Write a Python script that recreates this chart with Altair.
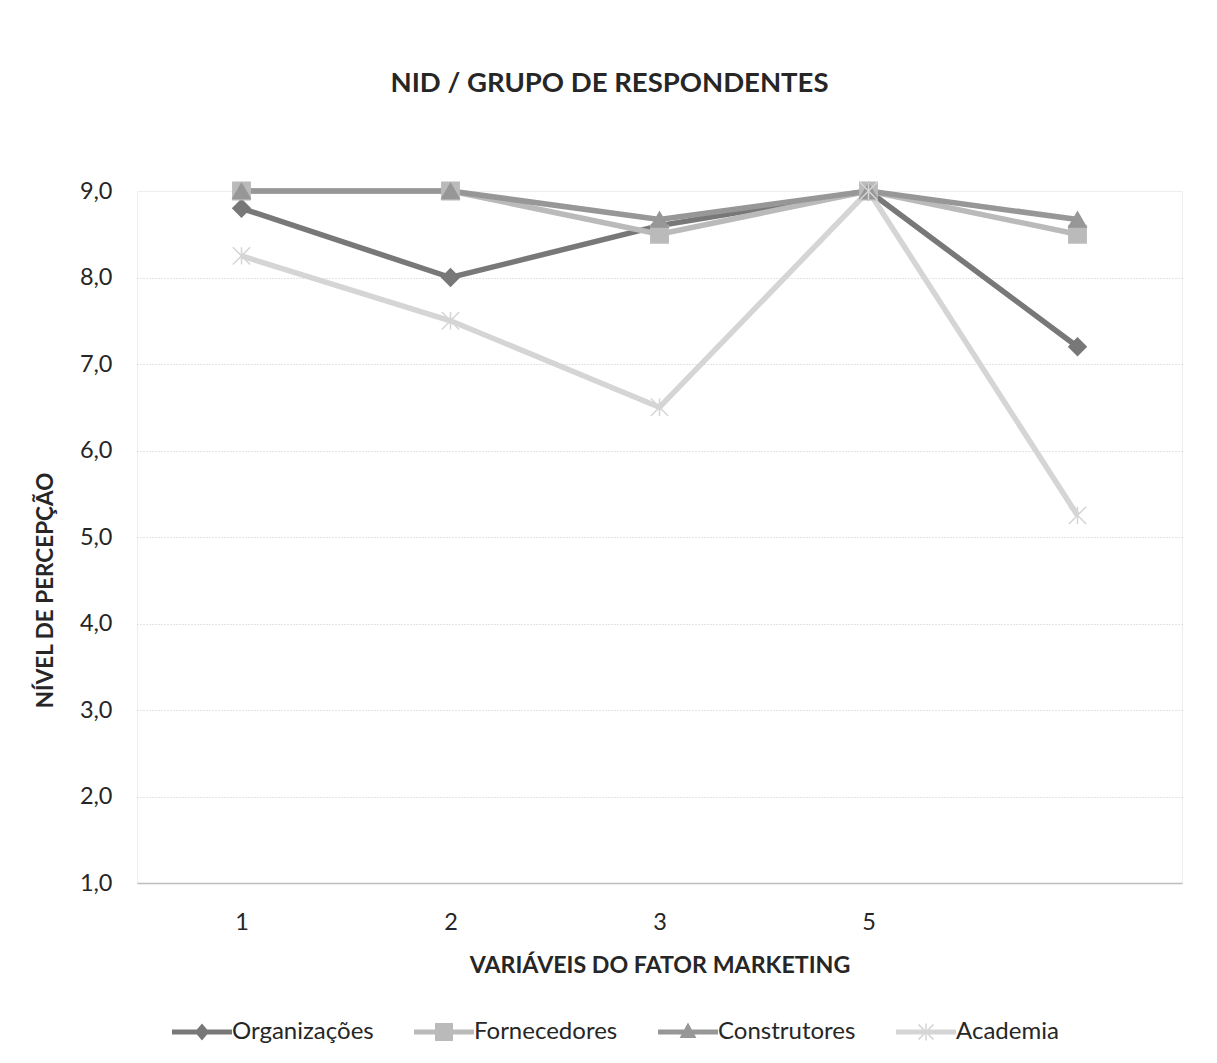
import altair as alt
import pandas as pd

# ---- data ----
categories = ["1", "2", "3", "5", " "]
series = ["Organizações", "Fornecedores", "Construtores", "Academia"]
organizacoes = [8.8, 8.0, 8.6, 9.0, 7.2]
fornecedores = [9.0, 9.0, 8.5, 9.0, 8.5]
construtores = [9.0, 9.0, 8.67, 9.0, 8.67]
academia = [8.25, 7.5, 6.5, 9.0, 5.25]
y_ticks = [1, 2, 3, 4, 5, 6, 7, 8, 9]

values_by_series = [organizacoes, fornecedores, construtores, academia]
rows = []
for s, vals in zip(series, values_by_series):
    for i, (c, v) in enumerate(zip(categories, vals)):
        rows.append({"cat": c, "idx": i, "serie": s, "valor": v})
df = pd.DataFrame(rows)

colors = ["#787878", "#bababa", "#979797", "#d5d5d5"]
marker_shapes = [
    "diamond",
    "square",
    "triangle-up",
    "M-1,-1L1,1M-1,1L1,-1M0,-1L0,1",
]
legend_shapes = [
    "M-1,-0.08L-0.17,-0.08L0,-0.28L0.17,-0.08L1,-0.08L1,0.08L0.17,0.08L0,0.28L-0.17,0.08L-1,0.08Z",
    "M-1,-0.08L1,-0.08L1,0.08L-1,0.08Z M-0.3,-0.3L0.3,-0.3L0.3,0.3L-0.3,0.3Z",
    "M-1,-0.08L1,-0.08L1,0.08L-1,0.08Z M0,-0.32L0.28,0.2L-0.28,0.2Z",
    "M-1,-0.08L1,-0.08L1,0.08L-1,0.08Z M-0.025,-0.28L0.025,-0.28L0.025,0.28L-0.025,0.28Z "
    "M-0.27,-0.23L-0.23,-0.27L0.27,0.23L0.23,0.27Z M0.23,-0.27L0.27,-0.23L-0.23,0.27L-0.27,0.23Z",
]

FONT = "Lato"
TXT = "#262626"

# legend symbol colour chosen per entry from the same series/colour lists
fill_expr = ""
for s, c in zip(series, colors):
    fill_expr += f"datum.value === '{s}' ? '{c}' : "
fill_expr += "'#888888'"

x_enc = alt.X(
    "cat:N",
    sort=categories,
    scale=alt.Scale(domain=categories, paddingInner=0, paddingOuter=0.5),
    axis=alt.Axis(
        title="VARIÁVEIS DO FATOR MARKETING",
        labelAngle=0,
        ticks=False,
        labelPadding=27,
        labelFontSize=23.5,
        labelFont=FONT,
        labelColor=TXT,
        domainColor="#bdbdbd",
        domainWidth=1.5,
        grid=False,
        titleFont=FONT,
        titleFontSize=23.2,
        titleFontWeight="bold",
        titleColor=TXT,
        titleY=82,
        titleBaseline="middle",
    ),
)
y_enc = alt.Y(
    "valor:Q",
    scale=alt.Scale(domain=[1, 9], nice=False, zero=False),
    axis=alt.Axis(
        title="NÍVEL DE PERCEPÇÃO",
        values=y_ticks,
        labelExpr="replace(format(datum.value, '.1f'), '.', ',')",
        ticks=False,
        domain=False,
        labelPadding=25,
        labelFontSize=23.5,
        labelFont=FONT,
        labelColor=TXT,
        grid=True,
        gridColor="#c9c9c9",
        gridDash=[1, 2],
        gridWidth=1,
        gridOpacity=alt.condition("datum.value >= 9 || datum.value <= 1", alt.value(0), alt.value(1)),
        titleFont=FONT,
        titleFontSize=22.5,
        titleFontWeight="bold",
        titleColor=TXT,
        titleX=-92,
        titleY=399,
        titleAngle=-90,
        titleAlign="center",
        titleBaseline="middle",
    ),
)

color_scale = alt.Scale(domain=series, range=colors)

lines = alt.Chart(df).mark_line(strokeWidth=5.5).encode(
    x=x_enc,
    y=y_enc,
    color=alt.Color("serie:N", scale=color_scale, sort=series, legend=None),
    order=alt.Order("idx:Q"),
)

points = alt.Chart(df).mark_point(filled=True, size=300, strokeWidth=1.5, opacity=1).encode(
    x=alt.X("cat:N", sort=categories),
    y="valor:Q",
    color=alt.Color("serie:N", scale=color_scale, sort=series, legend=None),
    stroke=alt.Stroke("serie:N", scale=color_scale, sort=series, legend=None),
    shape=alt.Shape("serie:N", scale=alt.Scale(domain=series, range=marker_shapes), legend=None),
)

legend_layer = alt.Chart(df).transform_filter("false").mark_point(filled=True).encode(
    x=alt.X("cat:N", sort=categories),
    y="valor:Q",
    fill=alt.Fill("serie:N", scale=None),
    shape=alt.Shape(
        "serie:N",
        scale=alt.Scale(domain=series, range=legend_shapes),
        sort=series,
        legend=alt.Legend(
            title=None,
            orient="none",
            direction="horizontal",
            legendX=35,
            legendY=811,
            symbolSize=3600,
            symbolStrokeWidth=0,
            symbolFillColor={"expr": fill_expr},
            labelFont=FONT,
            labelFontSize=24,
            labelColor=TXT,
            labelOffset=0,
            columnPadding=40,
            padding=0,
            symbolOpacity=1,
        ),
    ),
)

chart = (
    alt.layer(lines, points, legend_layer)
    .resolve_scale(color="shared", shape="independent")
    .properties(
        width=1045,
        height=692,
        autosize=alt.AutoSizeParams(type="none"),
        padding={"left": 129, "top": 183, "right": 26, "bottom": 172},
        title=alt.TitleParams(
            "NID / GRUPO DE RESPONDENTES",
            font=FONT,
            fontSize=27.5,
            fontWeight="bold",
            color=TXT,
            anchor="middle",
            dx=-50,
            offset=82,
        ),
        background="white",
    )
    .configure_view(stroke="#eeeeee", strokeWidth=1)
)

chart.save("out.html", embed_options={"renderer": "svg", "actions": False})
